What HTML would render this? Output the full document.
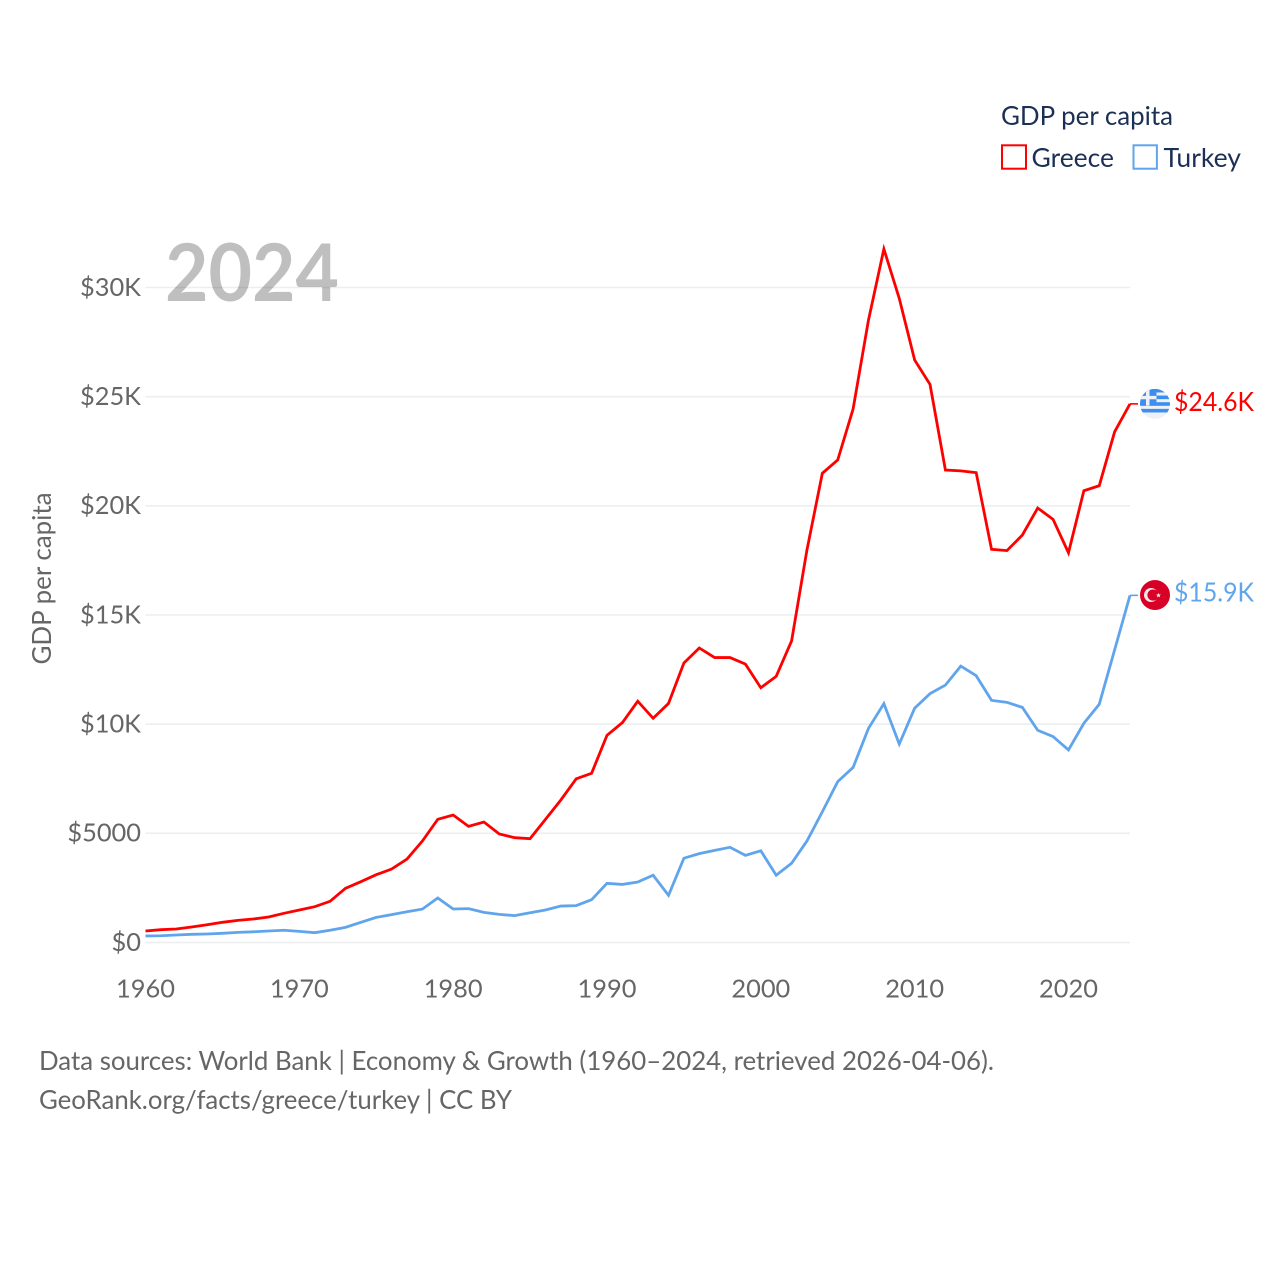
<!DOCTYPE html>
<html lang="en">
<head>
<meta charset="utf-8">
<title>GDP per capita: Greece and Turkey</title>
<style>
html,body{margin:0;padding:0;background:#fff;width:1280px;height:1280px;overflow:hidden}
svg{display:block}
text{font-family:"Lato","Carlito","Liberation Sans",sans-serif;font-size:26px}
.tick{fill:#666;font-size:25.4px}
.legend{fill:#1b3054}
.foot{fill:#666}
</style>
</head>
<body>
<svg id="chart" xmlns="http://www.w3.org/2000/svg" width="1280" height="1280" viewBox="0 0 1280 1280">
  <rect width="1280" height="1280" fill="#fff"/>
  <g id="grid"></g>
  <g id="yticks"></g>
  <g id="xticks"></g>
  <text class="tick" transform="translate(51,578.5) rotate(-90)" text-anchor="middle" textLength="172" lengthAdjust="spacingAndGlyphs" style="font-size:26px">GDP per capita</text>
  <text x="165" y="301" textLength="174" lengthAdjust="spacingAndGlyphs" style="font-size:80px;font-weight:700" fill="rgba(0,0,0,0.25)">2024</text>
  <g id="lines"></g>
  <g id="ends"></g>

  <g>
    <text class="legend" x="1001" y="125" textLength="172" lengthAdjust="spacingAndGlyphs">GDP per capita</text>
    <g>
      <rect x="1002" y="145.3" width="24" height="23.4" fill="none" stroke="#ff0000" stroke-width="2"/>
      <text class="legend" x="1031.5" y="167" textLength="82.5" lengthAdjust="spacingAndGlyphs">Greece</text>
    </g>
    <g>
      <rect x="1133.5" y="145.3" width="23.4" height="23.4" fill="none" stroke="#60a5ec" stroke-width="2"/>
      <text class="legend" x="1163.5" y="167" textLength="77.5" lengthAdjust="spacingAndGlyphs">Turkey</text>
    </g>
  </g>

  <g>
    <text class="foot" x="39" y="1070" textLength="955" lengthAdjust="spacingAndGlyphs">Data sources: World Bank | Economy &amp; Growth (1960–2024, retrieved 2026-04-06).</text>
    <text class="foot" x="39" y="1109" textLength="473" lengthAdjust="spacingAndGlyphs">GeoRank.org/facts/greece/turkey | CC BY</text>
  </g>

  <defs>
    <clipPath id="flagClip"><circle cx="15" cy="15" r="15"/></clipPath>
  </defs>
</svg>
<script>
const startYear = 1960;
const greeceValues = [527,587,618,710,815,925,1015,1076,1168,1337,1489,1640,1887,2482,2785,3105,3366,3824,4649,5642,5840,5320,5520,4970,4800,4755,5642,6527,7500,7750,9490,10070,11050,10270,10950,12800,13490,13050,13050,12750,11670,12190,13810,17980,21490,22100,24440,28510,31763,29500,26680,25560,21640,21600,21520,18010,17950,18660,19900,19380,17850,20690,20920,23390,24670];
const turkeyValues = [300,310,345,375,390,420,465,490,527,560,510,450,560,695,925,1150,1275,1410,1530,2040,1535,1550,1380,1290,1230,1365,1490,1670,1690,1960,2710,2660,2770,3080,2160,3860,4070,4220,4360,3990,4200,3080,3630,4650,5990,7370,8020,9810,10940,9090,10730,11400,11790,12660,12220,11090,11000,10770,9720,9430,8820,10040,10910,13400,15900];
const yTickValues = [0,5000,10000,15000,20000,25000,30000];
const yTickLabels = ["$0","$5000","$10K","$15K","$20K","$25K","$30K"];
const xTickValues = [1960,1970,1980,1990,2000,2010,2020];
const greeceEndLabel = "$24.6K";
const turkeyEndLabel = "$15.9K";

const NS = "http://www.w3.org/2000/svg";
const plotLeft = 145.5, plotRight = 1130, plotBottom = 942.5, plotTop = 287.5;
const lastYear = startYear + greeceValues.length - 1;
function xScale(year){ return plotLeft + (year - startYear) * (plotRight - plotLeft) / (lastYear - startYear); }
function yScale(v){ return plotBottom - v * (plotBottom - plotTop) / 30000; }
function mk(tag, attrs, parent){
  const e = document.createElementNS(NS, tag);
  for (const k in attrs) e.setAttribute(k, attrs[k]);
  parent.appendChild(e);
  return e;
}

const grid = document.getElementById('grid');
const yticks = document.getElementById('yticks');
const xticks = document.getElementById('xticks');
yTickValues.forEach(function(v, i){
  const line = mk('line', {x1: plotLeft, x2: plotRight, y1: yScale(v), y2: yScale(v), stroke: '#eceef0', 'stroke-width': 1.6}, grid);
  
  
  const t = mk('text', {x: 141, y: yScale(v) + 8.3, 'text-anchor': 'end', class: 'tick'}, yticks);
  
  
  t.textContent = yTickLabels[i];
});
xTickValues.forEach(function(y){
  const t = mk('text', {x: xScale(y), y: 997.5, 'text-anchor': 'middle', class: 'tick'}, xticks);
  
  
  t.textContent = y;
});

const lines = document.getElementById('lines');
function pathFor(values){
  return values.map(function(v, i){ return (i ? 'L' : 'M') + xScale(startYear + i).toFixed(2) + ' ' + yScale(v).toFixed(2); }).join(' ');
}
const greeceLine = mk('path', {d: pathFor(greeceValues), fill: 'none', stroke: '#ff0000', 'stroke-width': 2.8, 'stroke-linejoin': 'miter'}, lines);


const turkeyLine = mk('path', {d: pathFor(turkeyValues), fill: 'none', stroke: '#60a5ec', 'stroke-width': 2.8, 'stroke-linejoin': 'miter'}, lines);



const ends = document.getElementById('ends');
const gy = yScale(greeceValues[greeceValues.length - 1]);
const ty = yScale(turkeyValues[turkeyValues.length - 1]);

const gStub = mk('line', {x1: plotRight, x2: 1138, y1: gy, y2: gy, stroke: '#ff0000', 'stroke-width': 1.6}, ends);


const tStub = mk('line', {x1: plotRight, x2: 1138, y1: ty, y2: ty, stroke: '#60a5ec', 'stroke-width': 1.6}, ends);



/* Greece flag */
const gf = mk('g', {transform: 'translate(1140,' + (gy - 15) + ')', 'clip-path': 'url(#flagClip)'}, ends);


mk('rect', {x: 0, y: 0, width: 30, height: 30, fill: '#eef1f5'}, gf);
[0, 6.67, 13.33, 20].forEach(function(s){
  mk('rect', {x: 0, y: s, width: 30, height: 3.6, fill: '#3d8eef'}, gf);
});
mk('rect', {x: 0, y: 0, width: 16.5, height: 16.7, fill: '#3d8eef'}, gf);
mk('rect', {x: 6, y: 0, width: 3.5, height: 16.7, fill: '#eef1f5'}, gf);
mk('rect', {x: 0, y: 7, width: 16.5, height: 3.4, fill: '#eef1f5'}, gf);

/* Turkey flag */
const tf = mk('g', {transform: 'translate(1140,' + (ty - 15.3) + ')', 'clip-path': 'url(#flagClip)'}, ends);


mk('rect', {x: 0, y: 0, width: 30, height: 30, fill: '#d80027'}, tf);
mk('circle', {cx: 11, cy: 15, r: 7, fill: '#f6e8ea'}, tf);
mk('circle', {cx: 13, cy: 15, r: 5.6, fill: '#d80027'}, tf);
mk('polygon', {points: '18.5,12.8 19.2,14.5 21,14.5 19.6,15.6 20.1,17.4 18.5,16.3 16.9,17.4 17.4,15.6 16,14.5 17.8,14.5', fill: '#f6e8ea'}, tf);

const gLabel = mk('text', {x: 1174, y: gy + 7, fill: '#ff0000', textLength: 80, lengthAdjust: 'spacingAndGlyphs'}, ends);


gLabel.textContent = greeceEndLabel;
const tLabel = mk('text', {x: 1174, y: ty + 6, fill: '#60a5ec', textLength: 80, lengthAdjust: 'spacingAndGlyphs'}, ends);


tLabel.textContent = turkeyEndLabel;
</script>
</body>
</html>
